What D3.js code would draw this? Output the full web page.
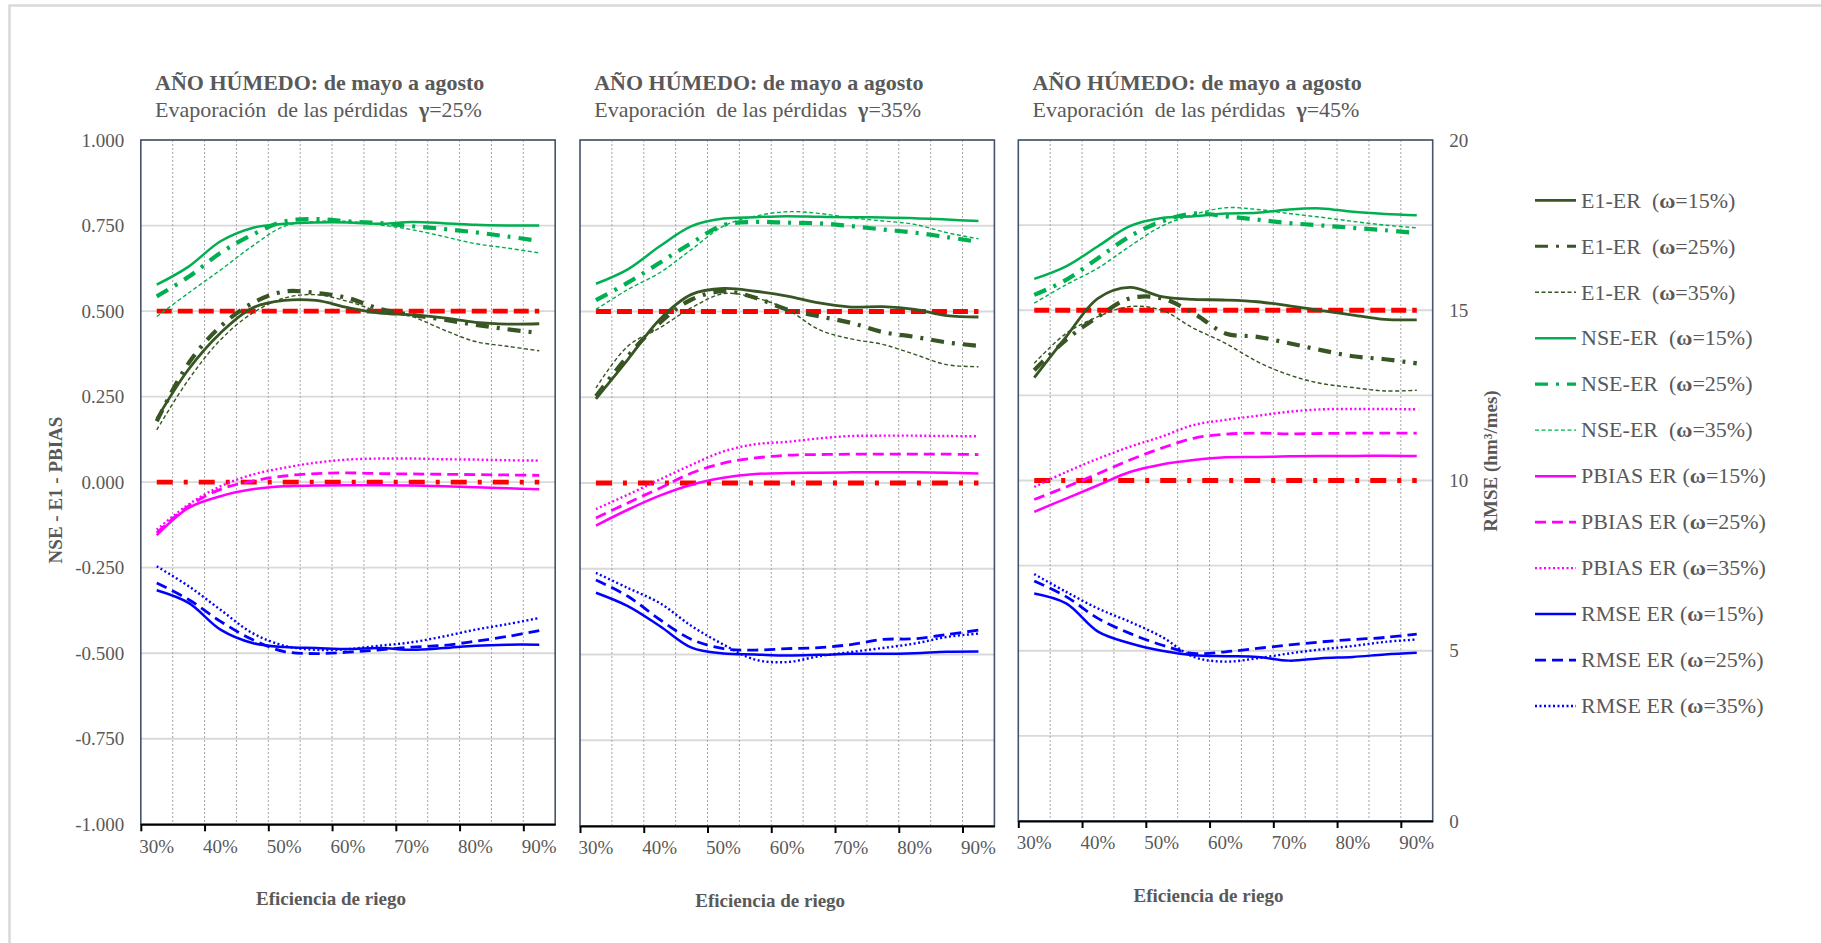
<!DOCTYPE html>
<html>
<head>
<meta charset="utf-8">
<script src="https://cdn.jsdelivr.net/npm/d3@7"></script>
<style>
  html, body { margin: 0; padding: 0; background: #ffffff; }
  svg text { font-family: "Liberation Serif", "Times New Roman", serif; fill: #595959; white-space: pre; }
</style>
</head>
<body>
<svg id="chart" width="1821" height="943"></svg>
<script>
// ---- data -------------------------------------------------------------
const categories = ["30%","35%","40%","45%","50%","55%","60%","65%","70%","75%","80%","85%","90%"];
const tickLabels = ["30%","40%","50%","60%","70%","80%","90%"];
const gammas = ["25%","35%","45%"];
const omegas = ["15%","25%","35%"];
const leftTicks = [1, 0.75, 0.5, 0.25, 0, -0.25, -0.5, -0.75, -1];
const rightTicks = [0, 5, 10, 15, 20];
const nseThreshold = 0.5;    // reference for NSE / E1
const pbiasReference = 0;    // reference for PBIAS

// rows: ω = 15%, 25%, 35%
const e1_g25 = [
  [0.185, 0.330, 0.436, 0.509, 0.531, 0.531, 0.510, 0.494, 0.489, 0.480, 0.467, 0.462, 0.463],
  [0.178, 0.348, 0.455, 0.523, 0.557, 0.553, 0.538, 0.506, 0.489, 0.475, 0.460, 0.447, 0.436],
  [0.153, 0.300, 0.416, 0.494, 0.538, 0.548, 0.528, 0.499, 0.484, 0.445, 0.411, 0.397, 0.384]
];
const nse_g25 = [
  [0.577, 0.630, 0.704, 0.743, 0.755, 0.759, 0.759, 0.755, 0.760, 0.757, 0.752, 0.750, 0.750],
  [0.543, 0.600, 0.670, 0.723, 0.762, 0.769, 0.762, 0.757, 0.748, 0.740, 0.730, 0.718, 0.705],
  [0.484, 0.553, 0.620, 0.690, 0.748, 0.762, 0.762, 0.752, 0.738, 0.718, 0.697, 0.684, 0.670]
];
const pbias_g25 = [
  [-0.155, -0.075, -0.041, -0.021, -0.012, -0.010, -0.009, -0.009, -0.010, -0.012, -0.015, -0.018, -0.021],
  [-0.148, -0.070, -0.021, 0.003, 0.018, 0.025, 0.027, 0.025, 0.024, 0.023, 0.022, 0.021, 0.020],
  [-0.139, -0.065, -0.012, 0.022, 0.042, 0.057, 0.066, 0.069, 0.069, 0.067, 0.066, 0.064, 0.063]
];
const rmse_g25 = [
  [6.84, 6.47, 5.69, 5.30, 5.18, 5.15, 5.12, 5.15, 5.10, 5.15, 5.22, 5.25, 5.25],
  [7.05, 6.57, 5.93, 5.40, 5.05, 4.99, 5.03, 5.10, 5.18, 5.23, 5.35, 5.49, 5.66],
  [7.54, 6.96, 6.27, 5.59, 5.22, 5.10, 5.12, 5.22, 5.32, 5.49, 5.69, 5.85, 6.03]
];

const e1_g35 = [
  [0.245, 0.360, 0.477, 0.550, 0.567, 0.559, 0.545, 0.525, 0.513, 0.514, 0.506, 0.488, 0.484],
  [0.253, 0.370, 0.467, 0.535, 0.559, 0.540, 0.506, 0.486, 0.467, 0.440, 0.426, 0.410, 0.400],
  [0.277, 0.399, 0.452, 0.511, 0.552, 0.540, 0.506, 0.447, 0.420, 0.404, 0.375, 0.345, 0.339]
];
const nse_g35 = [
  [0.581, 0.623, 0.690, 0.749, 0.771, 0.775, 0.778, 0.776, 0.775, 0.774, 0.772, 0.768, 0.764],
  [0.533, 0.584, 0.642, 0.700, 0.752, 0.761, 0.759, 0.757, 0.749, 0.739, 0.730, 0.717, 0.703],
  [0.506, 0.564, 0.613, 0.681, 0.749, 0.778, 0.791, 0.786, 0.773, 0.764, 0.754, 0.730, 0.712]
];
const pbias_g35 = [
  [-0.124, -0.078, -0.037, -0.005, 0.015, 0.026, 0.029, 0.030, 0.031, 0.031, 0.031, 0.030, 0.028],
  [-0.102, -0.058, -0.015, 0.029, 0.058, 0.073, 0.081, 0.083, 0.084, 0.084, 0.084, 0.084, 0.083],
  [-0.076, -0.034, 0.010, 0.053, 0.092, 0.113, 0.120, 0.130, 0.137, 0.138, 0.138, 0.137, 0.136]
];
const rmse_g35 = [
  [6.80, 6.41, 5.83, 5.20, 5.03, 5.00, 4.97, 4.99, 5.02, 5.02, 5.04, 5.08, 5.09],
  [7.17, 6.70, 6.02, 5.44, 5.17, 5.13, 5.17, 5.20, 5.29, 5.44, 5.46, 5.58, 5.71],
  [7.38, 6.94, 6.50, 5.83, 5.29, 4.85, 4.78, 4.95, 5.07, 5.19, 5.32, 5.51, 5.61]
];

const e1_g45 = [
  [0.302, 0.422, 0.535, 0.567, 0.540, 0.532, 0.530, 0.525, 0.513, 0.499, 0.486, 0.473, 0.472],
  [0.324, 0.413, 0.481, 0.535, 0.535, 0.491, 0.432, 0.422, 0.403, 0.383, 0.365, 0.356, 0.344],
  [0.344, 0.432, 0.481, 0.511, 0.500, 0.447, 0.403, 0.349, 0.310, 0.285, 0.273, 0.263, 0.265]
];
const nse_g45 = [
  [0.592, 0.629, 0.688, 0.747, 0.771, 0.776, 0.784, 0.786, 0.796, 0.799, 0.789, 0.783, 0.779],
  [0.545, 0.589, 0.653, 0.717, 0.761, 0.784, 0.776, 0.766, 0.756, 0.749, 0.742, 0.735, 0.727],
  [0.521, 0.575, 0.624, 0.688, 0.747, 0.781, 0.801, 0.796, 0.784, 0.773, 0.761, 0.750, 0.742]
];
const pbias_g45 = [
  [-0.092, -0.053, -0.014, 0.025, 0.047, 0.060, 0.068, 0.069, 0.071, 0.072, 0.072, 0.073, 0.072],
  [-0.056, -0.019, 0.020, 0.060, 0.095, 0.124, 0.136, 0.139, 0.137, 0.138, 0.139, 0.139, 0.139],
  [-0.019, 0.025, 0.064, 0.099, 0.129, 0.163, 0.178, 0.190, 0.202, 0.209, 0.210, 0.210, 0.209]
];
const rmse_g45 = [
  [6.68, 6.39, 5.56, 5.22, 5.00, 4.87, 4.84, 4.82, 4.71, 4.78, 4.82, 4.89, 4.94],
  [7.05, 6.59, 5.95, 5.51, 5.17, 4.92, 4.97, 5.07, 5.17, 5.26, 5.33, 5.39, 5.49],
  [7.25, 6.73, 6.24, 5.85, 5.41, 4.82, 4.68, 4.78, 4.92, 5.04, 5.14, 5.26, 5.33]
];

// ---- styling & layout ----------------------------------------------------
const metrics = [
  { key: "e1",    name: "E1-ER  ",  color: "#375623", axis: "left"  },
  { key: "nse",   name: "NSE-ER  ", color: "#00b050", axis: "left"  },
  { key: "pbias", name: "PBIAS ER ", color: "#ff00ff", axis: "left"  },
  { key: "rmse",  name: "RMSE ER ", color: "#0000ff", axis: "right" }
];
// one stroke style per ω, per metric family
const strokeStyles = {
  e1:    [{ w: 2.8, dash: null }, { w: 4.2, dash: "13 8 3 8" }, { w: 1.4, dash: "4 2.5" }],
  nse:   [{ w: 2.5, dash: null }, { w: 4.2, dash: "13 8 3 8" }, { w: 1.4, dash: "4 2.5" }],
  pbias: [{ w: 2.5, dash: null }, { w: 2.8, dash: "11 6" },     { w: 2.4, dash: "2 2.5" }],
  rmse:  [{ w: 2.5, dash: null }, { w: 2.8, dash: "11 6" },     { w: 2.4, dash: "2 2.5" }]
};

const panelData = [
  { e1: e1_g25, nse: nse_g25, pbias: pbias_g25, rmse: rmse_g25 },
  { e1: e1_g35, nse: nse_g35, pbias: pbias_g35, rmse: rmse_g35 },
  { e1: e1_g45, nse: nse_g45, pbias: pbias_g45, rmse: rmse_g45 }
];
const panelBoxes = [
  { left: 140.8,  top: 140, bottom: 824.3 },
  { left: 580.0,  top: 140, bottom: 826.0 },
  { left: 1018.3, top: 140, bottom: 821.0 }
];
const plotW = 414.4;

const fmt3 = d3.formatLocale({ decimal: ".", thousands: ",", grouping: [3], currency: ["", ""], minus: "-" }).format(".3f");

const svg = d3.select("#chart");

// outer frame
svg.append("rect")
  .attr("x", 9.5).attr("y", 5.5).attr("width", 1830).attr("height", 950)
  .attr("fill", "none").attr("stroke", "#d9d9d9").attr("stroke-width", 2.5);

panelBoxes.forEach((box, p) => {
  const g = svg.append("g");
  const x = d3.scaleBand().domain(categories).range([box.left, box.left + plotW]).padding(0);
  const xEdge = d3.scaleLinear().domain([0, categories.length]).range([box.left, box.left + plotW]);
  const yL = d3.scaleLinear().domain([-1, 1]).range([box.bottom, box.top]);
  const yR = d3.scaleLinear().domain([0, 20]).range([box.bottom, box.top]);
  const cx = c => x(c) + x.bandwidth() / 2;

  // horizontal gridlines
  g.selectAll("line.hgrid").data(leftTicks).join("line")
    .attr("x1", box.left).attr("x2", box.left + plotW)
    .attr("y1", d => yL(d)).attr("y2", d => yL(d))
    .attr("stroke", "#d9d9d9").attr("stroke-width", 1.8);

  // vertical dotted gridlines between categories
  g.selectAll("line.vgrid").data(d3.range(1, categories.length)).join("line")
    .attr("x1", d => xEdge(d)).attr("x2", d => xEdge(d))
    .attr("y1", box.top).attr("y2", box.bottom)
    .attr("stroke", "#a6a6a6").attr("stroke-width", 1).attr("stroke-dasharray", "2 2");

  // reference lines
  const first = cx(categories[0]), last = cx(categories[categories.length - 1]);
  g.append("line")
    .attr("x1", first).attr("x2", last).attr("y1", yL(nseThreshold)).attr("y2", yL(nseThreshold))
    .attr("stroke", "#ff0000").attr("stroke-width", 4.8).attr("stroke-dasharray", "15 6");
  g.append("line")
    .attr("x1", first).attr("x2", last).attr("y1", yL(pbiasReference)).attr("y2", yL(pbiasReference))
    .attr("stroke", "#ff0000").attr("stroke-width", 4.8).attr("stroke-dasharray", "16 11 4 11");

  // series
  metrics.forEach(m => {
    const scale = m.axis === "left" ? yL : yR;
    const line = d3.line()
      .x((d, i) => cx(categories[i]))
      .y(d => scale(d))
      .curve(d3.curveCatmullRom.alpha(0.5));
    panelData[p][m.key].forEach((vals, k) => {
      const st = strokeStyles[m.key][k];
      g.append("path")
        .attr("d", line(vals))
        .attr("fill", "none")
        .attr("stroke", m.color)
        .attr("stroke-width", st.w)
        .attr("stroke-dasharray", st.dash);
    });
  });

  // frame
  g.append("rect")
    .attr("x", box.left).attr("y", box.top).attr("width", plotW).attr("height", box.bottom - box.top)
    .attr("fill", "none").attr("stroke", "#44546a").attr("stroke-width", 1.6);

  // bottom axis: ticks at every second category boundary
  const axTicks = g.append("g").attr("transform", `translate(0,${box.bottom})`)
    .call(d3.axisBottom(xEdge).tickValues(d3.range(0, categories.length, 2)).tickFormat("").tickSize(7).tickSizeOuter(0));
  axTicks.select(".domain").attr("stroke", "#000").attr("stroke-width", 2);
  axTicks.selectAll(".tick line").attr("stroke", "#000").attr("stroke-width", 2);

  const axLabels = g.append("g").attr("transform", `translate(0,${box.bottom})`)
    .call(d3.axisBottom(x).tickValues(tickLabels).tickSize(0).tickPadding(15));
  axLabels.select(".domain").remove();
  axLabels.selectAll("text").attr("font-size", 19).attr("font-family", null).style("fill", "#595959");

  // x axis title
  g.append("text")
    .attr("x", box.left + plotW / 2 - 17).attr("y", box.bottom + 81)
    .attr("text-anchor", "middle").attr("font-size", 19).attr("font-weight", "bold")
    .text("Eficiencia de riego");

  // left axis on the first panel
  if (p === 0) {
    const ax = g.append("g").attr("transform", `translate(${box.left},0)`)
      .call(d3.axisLeft(yL).tickValues(leftTicks).tickFormat(fmt3).tickSize(0).tickPadding(16.5));
    ax.select(".domain").remove();
    ax.selectAll("text").attr("font-size", 19).attr("font-family", null).style("fill", "#595959");
    g.append("text")
      .attr("transform", `translate(62,490) rotate(-90)`)
      .attr("text-anchor", "middle").attr("font-size", 19).attr("font-weight", "bold")
      .text("NSE - E1 - PBIAS");
  }
  // right axis on the last panel
  if (p === panelBoxes.length - 1) {
    const ax = g.append("g").attr("transform", `translate(${box.left + plotW},0)`)
      .call(d3.axisRight(yR).tickValues(rightTicks).tickFormat(d3.format("d")).tickSize(0).tickPadding(16.5));
    ax.select(".domain").remove();
    ax.selectAll("text").attr("font-size", 19).attr("font-family", null).style("fill", "#595959");
    g.append("text")
      .attr("transform", `translate(1496.5,461) rotate(-90)`)
      .attr("text-anchor", "middle").attr("font-size", 19).attr("font-weight", "bold")
      .text("RMSE (hm³/mes)");
  }

  // panel titles
  g.append("text")
    .attr("x", box.left + 14.2).attr("y", 90)
    .attr("font-size", 22).attr("font-weight", "bold")
    .text("AÑO HÚMEDO: de mayo a agosto");
  const sub = g.append("text").attr("x", box.left + 14.2).attr("y", 116.5).attr("font-size", 22);
  sub.append("tspan").text("Evaporación  de las pérdidas  ");
  sub.append("tspan").attr("font-weight", "bold").text("γ");
  sub.append("tspan").text("=" + gammas[p]);
});

// legend
const legend = svg.append("g");
const legendRows = [];
metrics.forEach(m => omegas.forEach((o, k) => legendRows.push({ m, k, o })));
const legendY = d3.scaleLinear().domain([0, legendRows.length - 1]).range([200.3, 706]);
legendRows.forEach((r, i) => {
  const y = legendY(i);
  const st = strokeStyles[r.m.key][r.k];
  legend.append("line")
    .attr("x1", 1535).attr("x2", 1576).attr("y1", y).attr("y2", y)
    .attr("stroke", r.m.color).attr("stroke-width", Math.min(st.w, 3.2))
    .attr("stroke-dasharray", st.dash);
  const t = legend.append("text").attr("x", 1581).attr("y", y).attr("dy", "0.33em").attr("font-size", 22);
  t.append("tspan").text(r.m.name + "(");
  t.append("tspan").attr("font-weight", "bold").text("ω");
  t.append("tspan").text("=" + r.o + ")");
});
</script>
</body>
</html>
